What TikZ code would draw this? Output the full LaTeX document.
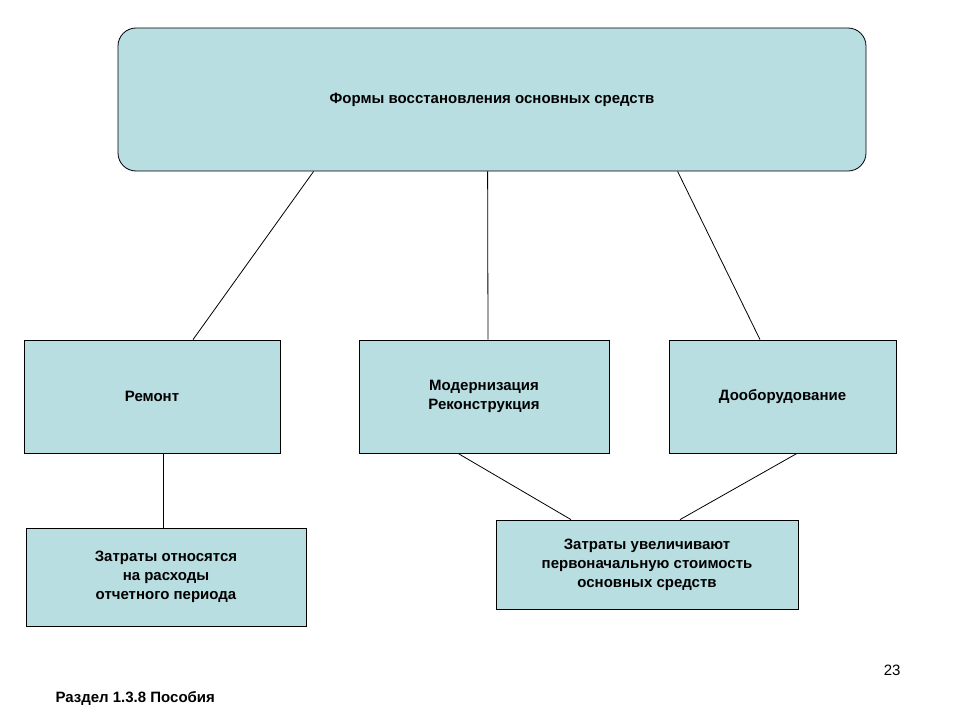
\documentclass[tikz,border=0pt]{standalone}
\usepackage{fontspec}
\setmainfont{Liberation Sans}
\usetikzlibrary{calc}
\definecolor{boxblue}{HTML}{B9DEE2}
\begin{document}
\begin{tikzpicture}
  [x=1pt, y=-1pt,
   every node/.style={font=\fontsize{15}{19}\selectfont\bfseries, align=center},
   box/.style={draw=black, fill=boxblue, line width=0.8pt, inner sep=0pt},
   link/.style={draw=black, line width=0.8pt}]
  \useasboundingbox[fill=white] (0,0) rectangle (960,720);
  \node [box, rounded corners=18pt, minimum width=748pt, minimum height=143pt] (forms) at (492,99.5) {Формы восстановления основных средств};
  \node [box, minimum width=256pt, minimum height=113pt] (repair) at (152,396.5) {Ремонт};
  \node [box, minimum width=250pt, minimum height=113pt] (modern) at (484,396.5) {Модернизация\\Реконструкция};
  \node [box, minimum width=227pt, minimum height=113pt] (equip) at (782.5,396.5) {Дооборудование};
  \node [box, minimum width=280pt, minimum height=98pt] (costs) at (166,577) {Затраты относятся\\на расходы\\отчетного периода};
  \node [box, minimum width=302pt, minimum height=89pt] (value) at (647,564.5) {Затраты увеличивают\\первоначальную стоимость\\основных средств};
  % links
  \draw [link] ($(forms.south west)+(196,0)$) -- ($(repair.north)+(41,0)$);
  \draw [link] ($(forms.south west)+(370,0)$) -- ($(modern.north)+(4,0)$);
  \draw [link] ($(forms.south west)+(560,0)$) -- ($(equip.north)+(-22.5,0)$);
  \draw [link] ($(repair.south)+(11,0)$) -- ($(costs.north)+(-3,0)$);
  \draw [link] ($(modern.south)+(-26,0)$) -- ($(value.north)+(-76,0)$);
  \draw [link] ($(equip.south)+(14.5,0)$) -- ($(value.north)+(33,0)$);
  \node [font=\fontsize{15}{19}\selectfont\bfseries, anchor=west] (source) at (52,698) {Раздел 1.3.8 Пособия};
  \node [font=\fontsize{15}{19}\selectfont, anchor=east] (page) at (904,670) {23};
\end{tikzpicture}
\end{document}
